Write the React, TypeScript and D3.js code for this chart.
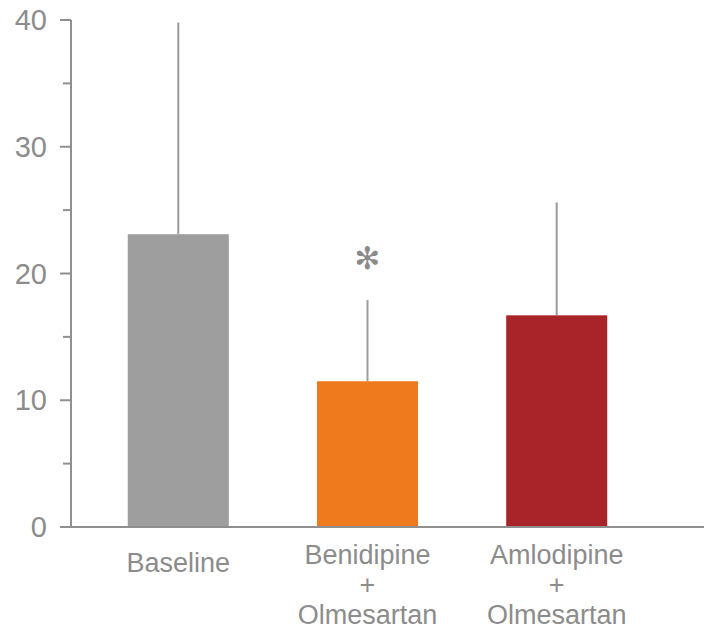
import React from 'react';
import * as d3 from 'd3';

// chart values
const categories = ['Baseline', 'Benidipine|+|Olmesartan', 'Amlodipine|+|Olmesartan'];
const means = [23.1, 11.5, 16.7];
const errorTops = [39.8, 17.9, 25.6];
const barColors = ['#9d9e9d', '#ee7a1d', '#a82428'];
const majorTicks = [0, 10, 20, 30, 40];
const minorTicks = [5, 15, 25, 35];
const markers = ['', '✻', ''];

const App = () => {
  const width = 704;
  const height = 629;
  const axisX = 71;
  const textColor = '#8c8c8c';
  const axisColor = '#8f8f8f';

  const y = d3.scaleLinear().domain([0, 40]).range([527, 20]);

  const x = d3.scaleBand()
    .domain(categories)
    .range([axisX, 664])
    .paddingInner(0.466)
    .paddingOuter(0.3);

  return (
    <svg width={width} height={height} style={{ position: 'absolute', left: 0, top: 0 }}
      fontFamily="'Liberation Sans', Arial, sans-serif">
      {/* bars */}
      {categories.map((c, i) => (
        <rect key={c} x={x(c)} y={y(means[i])} width={x.bandwidth()}
          height={y(0) - y(means[i])} fill={barColors[i]} />
      ))}
      {/* error bars, upward only */}
      {categories.map((c, i) => (
        <line key={'e' + c} x1={x(c)! + x.bandwidth() / 2} x2={x(c)! + x.bandwidth() / 2}
          y1={y(means[i])} y2={y(errorTops[i])} stroke="#9a9a9a" strokeWidth={2} />
      ))}
      {/* significance marker */}
      {categories.map((c, i) => markers[i] ? (
        <text key={'m' + c} x={x(c)! + x.bandwidth() / 2} y={y(errorTops[i]) - 42}
          textAnchor="middle" dominantBaseline="central" fontSize={31}
          fontFamily="'DejaVu Sans'" fill="#8a8a8a">{markers[i]}</text>
      ) : null)}

      {/* y axis */}
      <line x1={axisX} x2={axisX} y1={y(40)} y2={y(0)} stroke={axisColor} strokeWidth={2} />
      {majorTicks.map(t => (
        <g key={'t' + t}>
          <line x1={60} x2={axisX} y1={y(t)} y2={y(t)} stroke={axisColor} strokeWidth={2} />
          <text x={47} y={y(t)} textAnchor="end" dominantBaseline="central"
            fontSize={29} fill={textColor}>{t}</text>
        </g>
      ))}
      {minorTicks.map(t => (
        <line key={'m' + t} x1={63} x2={axisX} y1={y(t)} y2={y(t)} stroke={axisColor} strokeWidth={2} />
      ))}

      {/* x axis */}
      <line x1={axisX - 1} x2={width} y1={y(0)} y2={y(0)} stroke={axisColor} strokeWidth={2} />
      {categories.map(c => {
        const lines = c.split('|');
        const cx = x(c)! + x.bandwidth() / 2;
        return lines.map((l, j) => (
          <text key={'l' + c + j} x={cx} y={(lines.length > 1 ? 563.5 : 572) + j * 30.3}
            textAnchor="middle" fontSize={27} fill={textColor}>{l}</text>
        ));
      })}
    </svg>
  );
};

export default App;
